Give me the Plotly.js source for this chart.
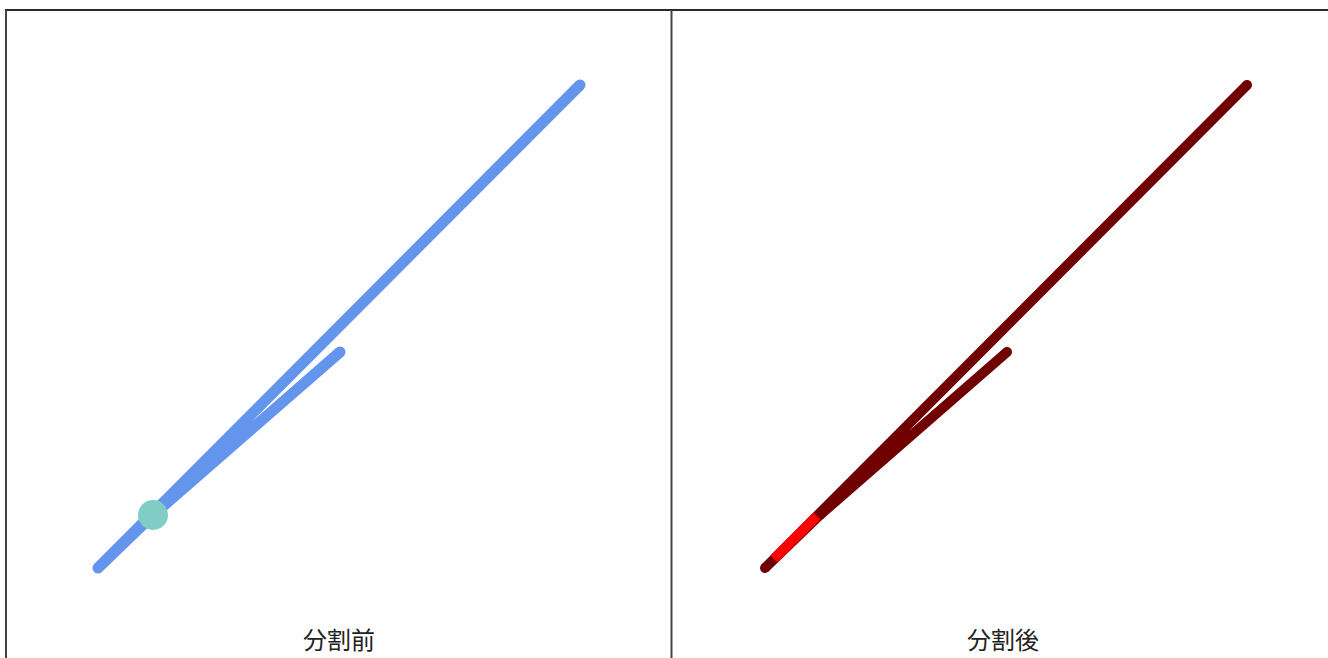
<!DOCTYPE html>
<html>
<head>
<meta charset="utf-8">
<script src="https://cdn.plot.ly/plotly-3.0.1.min.js"></script>
<style>
  html, body { margin: 0; padding: 0; background: #fff; }
  #chart { width: 1328px; height: 658px; }
</style>
</head>
<body>
<div id="chart"></div>
<script>
// Line vertices (same geometry in both panels): branch end -> split point -> start -> far end
const lineX = [334, 147, 92, 574];
const lineY = [306, 143, 90, 573];
// Split point
const splitX = [147];
const splitY = [143];
// Piece produced by the split (near the start -> split point)
const pieceX = [101, 144];
const pieceY = [99, 142];
// Panel titles
const panelTitles = ['分割前', '分割後'];

const BLUE = '#6495ed';
const DARK = '#700000';
const RED = '#ff0000';
const CIRCLE = '#7fcdc4';

const traces = [
  // Left panel: original line
  {x: lineX, y: lineY, xaxis: 'x', yaxis: 'y', mode: 'lines+markers',
   line: {color: BLUE, width: 11},
   marker: {color: BLUE, size: 11, line: {width: 0}},
   hoverinfo: 'skip', showlegend: false},
  // split point
  {x: splitX, y: splitY, xaxis: 'x', yaxis: 'y', mode: 'markers',
   marker: {color: CIRCLE, size: 30, line: {width: 0}},
   hoverinfo: 'skip', showlegend: false},
  // Right panel: split result
  {x: lineX, y: lineY, xaxis: 'x2', yaxis: 'y2', mode: 'lines+markers',
   line: {color: DARK, width: 10},
   marker: {color: DARK, size: 10, line: {width: 0}},
   hoverinfo: 'skip', showlegend: false},
  {x: pieceX, y: pieceY, xaxis: 'x2', yaxis: 'y2', mode: 'lines',
   line: {color: RED, width: 10},
   hoverinfo: 'skip', showlegend: false}
];

const W = 1328, H = 658;
const axisCommon = {visible: false, showgrid: false, zeroline: false, fixedrange: true};

const layout = {
  width: W, height: H,
  margin: {l: 0, r: 0, t: 0, b: 0},
  paper_bgcolor: '#ffffff',
  plot_bgcolor: 'rgba(0,0,0,0)',
  showlegend: false,
  xaxis: Object.assign({}, axisCommon, {domain: [6 / W, 671 / W], range: [0, 665]}),
  yaxis: Object.assign({}, axisCommon, {domain: [0, 1], range: [0, H]}),
  xaxis2: Object.assign({}, axisCommon, {domain: [673 / W, 1], range: [0, W - 673]}),
  yaxis2: Object.assign({}, axisCommon, {domain: [0, 1], range: [0, H], anchor: 'x2'}),
  shapes: [
    {type: 'line', xref: 'paper', yref: 'paper', x0: 5 / W, x1: 1, y0: 1 - 10 / H, y1: 1 - 10 / H,
     line: {color: '#2a2a2a', width: 2}},
    {type: 'line', xref: 'paper', yref: 'paper', x0: 6 / W, x1: 6 / W, y0: 0, y1: 1 - 10 / H,
     line: {color: '#444444', width: 2}},
    {type: 'line', xref: 'paper', yref: 'paper', x0: 671.5 / W, x1: 671.5 / W, y0: 0, y1: 1 - 10 / H,
     line: {color: '#444444', width: 2}}
  ],
  annotations: [
    {text: panelTitles[0], xref: 'paper', yref: 'paper', x: 338.5 / W, y: 1 - 638 / H,
     xanchor: 'center', yanchor: 'middle', showarrow: false,
     font: {family: '"Noto Sans CJK JP", "Noto Sans", sans-serif', size: 24, color: '#222222'}},
    {text: panelTitles[1], xref: 'paper', yref: 'paper', x: 1003 / W, y: 1 - 638 / H,
     xanchor: 'center', yanchor: 'middle', showarrow: false,
     font: {family: '"Noto Sans CJK JP", "Noto Sans", sans-serif', size: 24, color: '#222222'}}
  ]
};

Plotly.newPlot('chart', traces, layout, {displayModeBar: false, staticPlot: true});
</script>
</body>
</html>
